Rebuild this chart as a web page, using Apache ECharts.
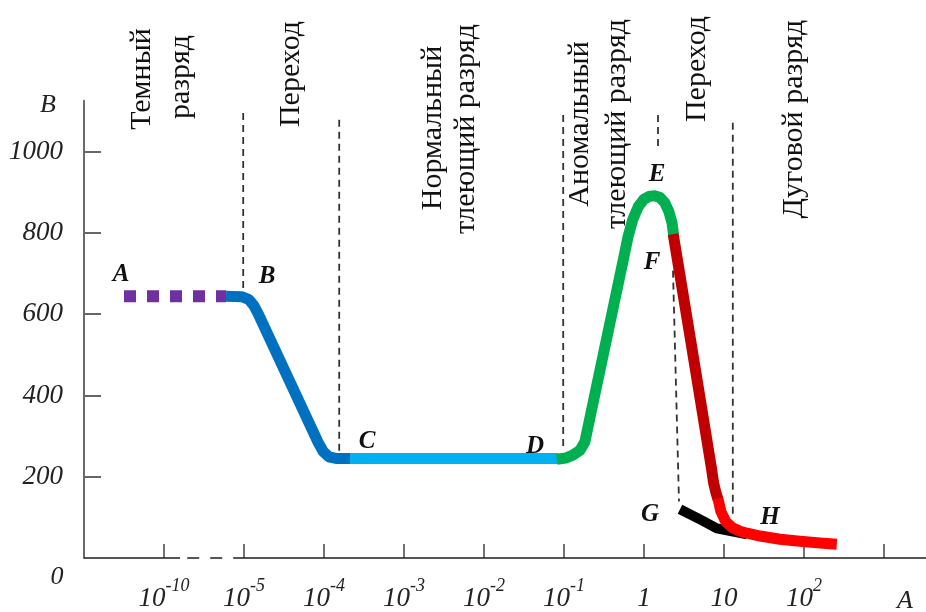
<!DOCTYPE html>
<html><head><meta charset="utf-8">
<script src="https://cdn.jsdelivr.net/npm/echarts@6/dist/echarts.min.js"></script>
<style>html,body{margin:0;padding:0;background:#fff}#c{width:926px;height:612px}</style>
</head><body><div id="c"></div>
<script>
// ---- data ----
const xTickPos = [1,2,3,4,5,6,7,8,9,10];
const xLabelPos = [1,2,3,4,5,6,7,8,9];
const tickBase = ['10','10','10','10','10','10','1','10','10'];
const tickExp  = ['-10','-5','-4','-3','-2','-1','','','2'];
const yTicks = [200,400,600,800,1000];

const segAB = [[0.5,644],[1.775,644]];
const segBC = [[1.775,644],[1.97,643],[2.06,636],[2.12,622],[2.175,602],[2.925,285],[2.99,262],[3.06,249],[3.15,245],[3.325,245]];
const segCD = [[3.325,245],[5.925,245]];
const segDEF = [[5.91,243],[6.02,246],[6.11,253],[6.2,265],[6.26,285],[6.75,742],[6.8,790],[6.86,833],[6.93,865],[7.0,883],[7.07,890],[7.14,891],[7.2,887],[7.26,874],[7.31,853],[7.35,825],[7.37,795]];
const segF = [[7.365,797],[7.6,515],[7.84,225],[7.87,185],[7.9,160],[7.925,144]];
const segG = [[7.45,120],[7.7,95],[7.91,73],[8.29,58]];
const segH = [[7.925,146],[7.96,115],[8.02,90],[8.1,75],[8.2,66],[8.29,61],[8.45,54],[8.7,46],[8.95,41],[9.2,37],[9.41,34]];

const axisSolid1 = [[0,0],[1.2,0]];
const axisDashed = [[1.29,0],[2.0,0]];
const axisSolid2 = [[2.0,0],[10.525,0]];

const dividers = [
  [[1.99,1095],[1.99,656]],
  [[3.19,1078],[3.19,256]],
  [[5.99,1090],[5.99,273]],
  [[7.175,1090],[7.175,1005]],
  [[7.3625,707],[7.4375,139]],
  [[8.11,1071],[8.11,107]]
];

const regionLines = [
  ['Темный',142,79],['разряд',181,77],
  ['Переход',291,74],
  ['Нормальный',433,128],['тлеющий разряд',466,129],
  ['Аномальный',580,124],['тлеющий разряд',617,124],
  ['Переход',697,69],
  ['Дуговой разряд',794,119]
];
const pointLetters = [['A',121,275],['B',267,277],['C',367,442],['D',535,447],['E',657,175],['F',652,263],['G',650,515],['H',770,518]];

// ---- chart ----
const FONT = 'Liberation Serif';
const chart = echarts.init(document.getElementById('c'));

function lineSeries(data, color, width, type) {
  return {type:'line', data, showSymbol:false, symbol:'none', clip:false, silent:true, animation:false,
    lineStyle:{color, width, type: type||'solid', cap:'butt', join:'round'}};
}

const series = [
  lineSeries(axisSolid1,'#1e1e1e',1.5),
  lineSeries(axisDashed,'#1e1e1e',1.5,[12,11]),
  lineSeries(axisSolid2,'#1e1e1e',1.5),
];
dividers.forEach(d => series.push(lineSeries(d,'#333',1.8,[7,5])));
series.push(lineSeries(segAB,'#7030a0',12,[12,11]));
series.push(lineSeries(segBC,'#0070c0',11));
series.push(lineSeries(segCD,'#00b0f0',11));
series.push(lineSeries(segDEF,'#00b050',11));
series.push(lineSeries(segF,'#c00000',11));
series.push(lineSeries(segG,'#000000',10));
series.push(lineSeries(segH,'#ff0000',11));

const graphics = [];
regionLines.forEach(([t,x,y]) => graphics.push({type:'text', x, y, rotation:Math.PI/2, silent:true,
  style:{text:t, font:'30px "'+FONT+'"', fill:'#111', align:'center', verticalAlign:'middle'}}));
pointLetters.forEach(([t,x,y]) => graphics.push({type:'text', x, y, silent:true,
  style:{text:t, font:'italic bold 25px "'+FONT+'"', fill:'#111', align:'center', verticalAlign:'middle'}}));
graphics.push({type:'text', x:48, y:105, silent:true, style:{text:'B', font:'italic 26px "'+FONT+'"', fill:'#222', align:'center', verticalAlign:'middle'}});
graphics.push({type:'text', x:57, y:577, silent:true, style:{text:'0', font:'italic 26px "'+FONT+'"', fill:'#222', align:'center', verticalAlign:'middle'}});
graphics.push({type:'text', x:905, y:601, silent:true, style:{text:'A', font:'italic 26px "'+FONT+'"', fill:'#222', align:'center', verticalAlign:'middle'}});

chart.setOption({
  animation:false,
  grid:{left:84, right:0, top:100.75, bottom:50, containLabel:false},
  xAxis:{type:'value', min:0, max:10.525,
    axisLine:{show:false},
    splitLine:{show:false},
    axisTick:{show:true, inside:true, length:14, customValues:xTickPos, lineStyle:{color:'#444', width:1.5}},
    axisLabel:{show:true, margin:19, customValues:xLabelPos,
      formatter:(v)=>{const i=Math.round(v)-1; const e=tickExp[i]; return '{b|'+tickBase[i]+'}'+(e?'{s|'+e+'}':'');},
      rich:{
        b:{fontSize:27, fontFamily:FONT, fontStyle:'italic', color:'#222', padding:[8,0,0,0], verticalAlign:'bottom'},
        s:{fontSize:18, fontFamily:FONT, fontStyle:'italic', color:'#222', verticalAlign:'top'}
      }}
  },
  yAxis:{type:'value', min:0, max:1125,
    axisLine:{show:true, lineStyle:{color:'#6a6a6a', width:2}},
    splitLine:{show:false},
    axisTick:{show:true, inside:true, length:17, customValues:yTicks, lineStyle:{color:'#666', width:2}},
    axisLabel:{show:true, margin:21, customValues:yTicks, formatter:(v)=>String(v), fontSize:27, fontFamily:FONT, fontStyle:'italic', color:'#222'}
  },
  series,
  graphic:graphics
});
</script></body></html>
